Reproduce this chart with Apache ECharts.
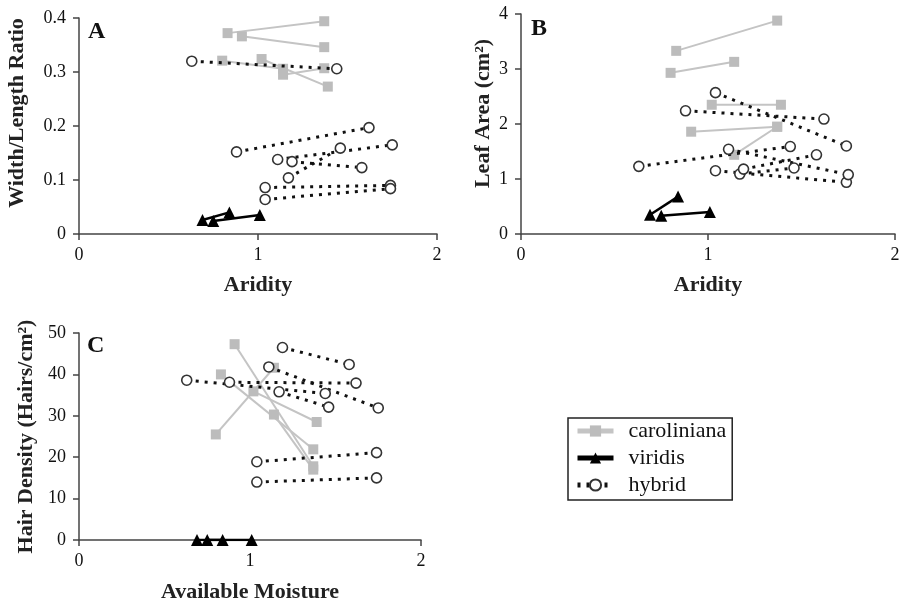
<!DOCTYPE html>
<html>
<head>
<meta charset="utf-8">
<script src="https://cdn.jsdelivr.net/npm/echarts@6/dist/echarts.min.js"></script>
<style>
  html, body { margin: 0; padding: 0; background: #fff; }
  #main { width: 909px; height: 601px; }
</style>
</head>
<body>
<div id="main"></div>
<script>
// x positions of each population pair (low env, high env)
var carolX = [[0.83, 1.37], [0.80, 1.14], [1.02, 1.39], [0.91, 1.37], [1.14, 1.37]];
var virX = [[0.69, 0.84], [0.75, 1.01]];
var hybX = [[0.63, 1.44], [0.88, 1.62], [1.04, 1.74], [1.04, 1.74], [1.11, 1.75], [1.17, 1.46], [1.19, 1.58]];

// panel A : width/length ratio
var carolA = [[0.372, 0.394], [0.321, 0.306], [0.324, 0.273], [0.366, 0.346], [0.295, 0.307]];
var virA = [[0.026, 0.040], [0.024, 0.035]];
var hybA = [[0.320, 0.306], [0.152, 0.197], [0.086, 0.090], [0.064, 0.084], [0.138, 0.165], [0.104, 0.159], [0.134, 0.123]];

// panel B : leaf area
var carolB = [[3.33, 3.88], [2.93, 3.13], [2.35, 2.35], [1.86, 1.95], [1.44, 1.95]];
var virB = [[0.35, 0.68], [0.33, 0.40]];
var hybB = [[1.23, 1.59], [2.24, 2.09], [2.57, 1.60], [1.15, 0.94], [1.54, 1.08], [1.09, 1.20], [1.18, 1.44]];

// panel C : hair density
var carolC = [[40.0, 21.9], [25.5, 41.6], [35.9, 28.5], [47.3, 17.8], [30.3, 17.0]];
var virC = [[0, 0], [0, 0]];
var hybC = [[38.6, 35.4], [38.1, 37.9], [18.9, 21.1], [14.0, 15.0], [41.8, 31.9], [35.8, 32.1], [46.5, 42.4]];

var xTicks = [0, 1, 2];
var grupos = ['caroliniana', 'viridis', 'hybrid'];

var fuente = 'Liberation Serif';
var myChart = echarts.init(document.getElementById('main'));

var estilos = {
  caroliniana: {
    symbol: 'rect', symbolSize: 10,
    itemStyle: { color: '#bcbcbc' },
    lineStyle: { color: '#c4c4c4', width: 2, type: 'solid' }
  },
  viridis: {
    symbol: 'triangle', symbolSize: 12,
    itemStyle: { color: '#000' },
    lineStyle: { color: '#000', width: 2.5, type: 'solid' }
  },
  hybrid: {
    symbol: 'circle', symbolSize: 10,
    itemStyle: { color: '#fff', borderColor: '#333', borderWidth: 1.6 },
    lineStyle: { color: '#111', width: 3, type: [3, 6] }
  }
};

var series = [];
function agregar(nombre, xs, ys, panel) {
  for (var i = 0; i < xs.length; i++) {
    var e = estilos[nombre];
    series.push({
      name: nombre,
      type: 'line',
      xAxisIndex: panel,
      yAxisIndex: panel,
      symbol: e.symbol,
      symbolSize: e.symbolSize,
      itemStyle: e.itemStyle,
      lineStyle: e.lineStyle,
      z: nombre === 'hybrid' ? 3 : 2,
      animation: false,
      data: [[xs[i][0], ys[i][0]], [xs[i][1], ys[i][1]]]
    });
  }
}
agregar('caroliniana', carolX, carolA, 0);
agregar('viridis', virX, virA, 0);
agregar('hybrid', hybX, hybA, 0);
agregar('caroliniana', carolX, carolB, 1);
agregar('viridis', virX, virB, 1);
agregar('hybrid', hybX, hybB, 1);
agregar('caroliniana', carolX, carolC, 2);
agregar('viridis', virX, virC, 2);
agregar('hybrid', hybX, hybC, 2);

var ejeLinea = { show: true, lineStyle: { color: '#444', width: 1.5 } };
var ejeTick = { show: true, inside: false, length: 6, lineStyle: { color: '#444', width: 1.5 } };
var etiqueta = { color: '#111', fontFamily: fuente, fontSize: 18 };

function ejeX(idx, nombre, gap) {
  return {
    type: 'value', gridIndex: idx, min: xTicks[0], max: xTicks[2], interval: 1,
    name: nombre, nameLocation: 'middle', nameGap: gap,
    nameTextStyle: { color: '#222', fontFamily: fuente, fontSize: 22, fontWeight: 'bold' },
    axisLine: ejeLinea, axisTick: ejeTick, splitLine: { show: false },
    axisLabel: Object.assign({ margin: 12 }, etiqueta)
  };
}
function ejeY(idx, max, intervalo, nombre, gap, subir) {
  return {
    type: 'value', gridIndex: idx, min: 0, max: max, interval: intervalo,
    name: nombre, nameLocation: 'middle', nameGap: gap, nameRotate: 90,
    nameTextStyle: { color: '#222', fontFamily: fuente, fontSize: 22, fontWeight: 'bold', padding: [0, 0, 0, subir] },
    axisLine: ejeLinea, axisTick: ejeTick, splitLine: { show: false },
    axisLabel: Object.assign({ margin: 13 }, etiqueta)
  };
}

var option = {
  backgroundColor: '#fff',
  animation: false,
  grid: [
    { left: 79, top: 18, width: 358, height: 216, outerBoundsMode: 'none' },
    { left: 521, top: 14, width: 374, height: 220, outerBoundsMode: 'none' },
    { left: 79, top: 333, width: 342, height: 207, outerBoundsMode: 'none' }
  ],
  xAxis: [
    ejeX(0, 'Aridity', 40),
    ejeX(1, 'Aridity', 40),
    ejeX(2, 'Available Moisture', 41)
  ],
  yAxis: [
    ejeY(0, 0.4, 0.1, 'Width/Length Ratio', 51, 26),
    ejeY(1, 4, 1, 'Leaf Area (cm²)', 27, 21),
    ejeY(2, 50, 10, 'Hair Density (Hairs/cm²)', 42, 0)
  ],
  legend: {
    data: grupos,
    orient: 'vertical',
    left: 568, top: 418,
    padding: [2, 6, 4, 7],
    itemWidth: 36, itemHeight: 14, itemGap: 5,
    borderColor: '#222', borderWidth: 1.5,
    lineStyle: { width: 5 },
    textStyle: { fontFamily: fuente, fontSize: 22, color: '#111', padding: [0, 0, 0, 10] }
  },
  graphic: [
    { type: 'text', left: 88, top: 20, style: { text: 'A', font: 'bold 24px "Liberation Serif"', fill: '#111' } },
    { type: 'text', left: 531, top: 17, style: { text: 'B', font: 'bold 24px "Liberation Serif"', fill: '#111' } },
    { type: 'text', left: 87, top: 334, style: { text: 'C', font: 'bold 24px "Liberation Serif"', fill: '#111' } }
  ],
  series: series
};

myChart.setOption(option);
</script>
</body>
</html>
